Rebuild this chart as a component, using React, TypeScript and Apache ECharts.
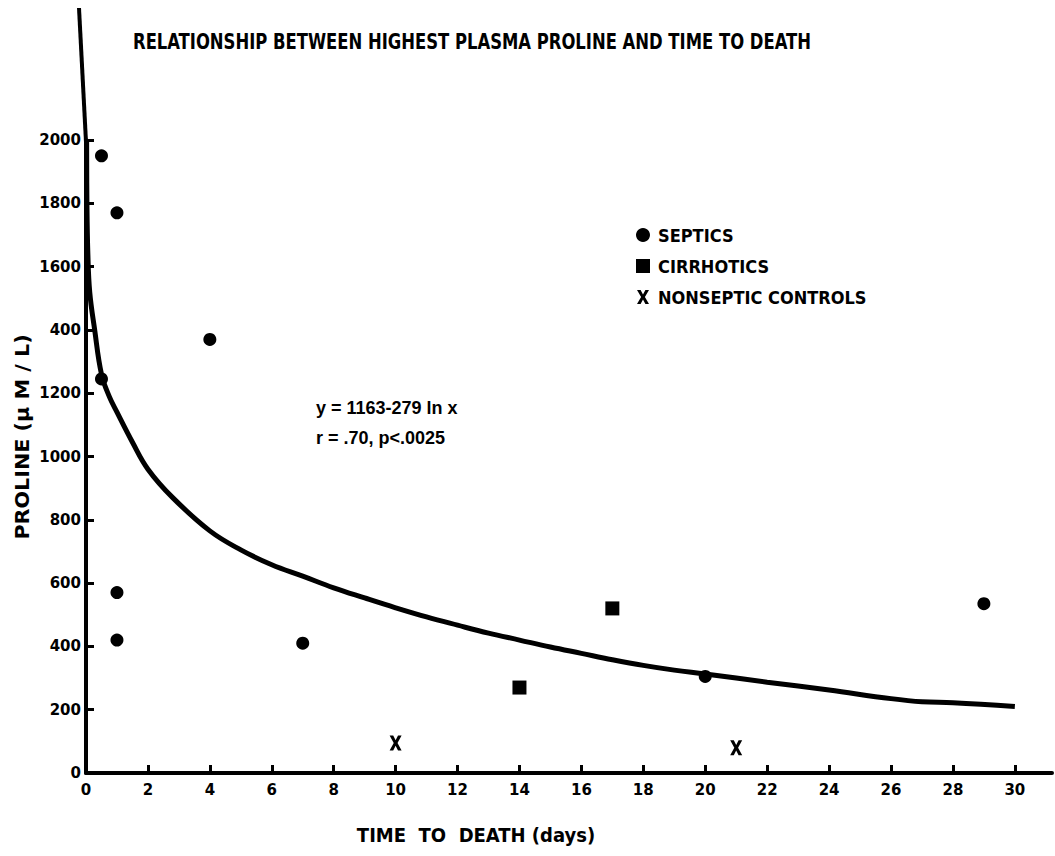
import React, { useEffect, useRef } from "react";
import * as echarts from "echarts";

// ---- data ----
const SEPTICS: [number, number][] = [
  [0.5, 1950], [1, 1770], [4, 1370], [0.5, 1245], [1, 570],
  [1, 420], [7, 410], [20, 305], [29, 535],
];
const CIRRHOTICS: [number, number][] = [[14, 270], [17, 520]];
const NONSEPTIC: [number, number][] = [[10, 95], [21, 80]];

// hand-drawn regression curve (y = 1163 - 279 ln x)
const CURVE: [number, number][] = [
  [0.02, 2000], [0.03, 1800], [0.06, 1640], [0.12, 1520], [0.28, 1400],
  [0.5, 1260], [0.75, 1190], [1, 1140], [1.5, 1045], [2, 960],
  [2.8, 870], [4, 765], [5, 705], [6, 658], [7, 622],
  [8, 585], [9, 553], [10, 522], [11, 493], [12, 467],
  [13, 442], [14, 420], [15, 398], [16, 378], [17, 358],
  [18, 340], [19, 325], [20, 313], [22, 287], [24, 262],
  [26, 235], [27, 225], [28, 222], [30, 210],
];

const Y_TICK_LABELS = ["0", "200", "400", "600", "800", "1000", "1200", "400", "1600", "1800", "2000"];
const X_TICK_STEP = 2;
const Y_TICK_STEP = 200;

const TITLE = "RELATIONSHIP BETWEEN HIGHEST PLASMA PROLINE AND TIME TO DEATH";
const X_NAME = "TIME  TO  DEATH (days)";
const Y_NAME = "PROLINE (\u03BC M / L)";
const EQ_LINE1 = "y = 1163-279 ln x";
const EQ_LINE2 = "r = .70, p<.0025";

const NARROW = "'Liberation Sans Narrow', 'DejaVu Sans Condensed', 'Liberation Sans', sans-serif";
const NUM = "'DejaVu Sans', sans-serif";

const X_SYMBOL =
  "path://M0,0 L3.6,0 L6,4.4 L8.4,0 L12,0 L7.9,7 L12,14 L8.4,14 L6,9.6 L3.6,14 L0,14 L4.1,7 Z";

export default function App() {
  const ref = useRef<HTMLDivElement>(null);
  useEffect(() => {
    if (!ref.current) return;
    const chart = echarts.init(ref.current, null, { renderer: "svg" });
    const gridLeft = 86;
    const gridTop = 140;
    chart.setOption({
      animation: false,
      backgroundColor: "#fff",
      legend: {
        data: ["SEPTICS", "CIRRHOTICS", "NONSEPTIC CONTROLS"],
        orient: "vertical",
        left: 631,
        top: 221,
        itemWidth: 14,
        itemHeight: 14,
        itemGap: 13,
        textStyle: {
          fontFamily: NARROW,
          fontWeight: "bold",
          fontSize: 18,
          color: "#000",
          padding: [0, 0, 0, 3],
        },
      },
      grid: { left: gridLeft, top: gridTop, width: 966, height: 633, containLabel: false },
      xAxis: {
        type: "value",
        min: 0,
        max: 31.2,
        interval: X_TICK_STEP,
        axisLine: { show: true, lineStyle: { color: "#000", width: 4 } },
        axisTick: { show: true, inside: true, length: 8, lineStyle: { color: "#000", width: 3 } },
        axisLabel: {
          margin: 9,
          color: "#000",
          fontFamily: NUM,
          fontWeight: "bold",
          fontSize: 15,
          showMaxLabel: false,
          formatter: (v: number) => (v <= 30 ? String(v) : ""),
        },
        splitLine: { show: false },
      },
      yAxis: {
        type: "value",
        min: 0,
        max: 2000,
        interval: Y_TICK_STEP,
        axisLine: { show: true, lineStyle: { color: "#000", width: 4 } },
        axisTick: { show: true, inside: true, length: 8, lineStyle: { color: "#000", width: 3 } },
        axisLabel: {
          margin: 5,
          color: "#000",
          fontFamily: NUM,
          fontWeight: "bold",
          fontSize: 15,
          formatter: (v: number) => Y_TICK_LABELS[Math.round(v / Y_TICK_STEP)] ?? "",
        },
        splitLine: { show: false },
      },
      graphic: [
        {
          type: "line",
          shape: { x1: 79, y1: 8, x2: 86, y2: gridTop + 2 },
          style: { stroke: "#000", lineWidth: 4 },
        },
        {
          type: "text",
          x: 133,
          y: 41,
          scaleX: 0.83,
          style: {
            text: TITLE,
            font: `bold 22px ${NARROW}`,
            fill: "#000",
            align: "left",
            verticalAlign: "middle",
          },
        },
        {
          type: "text",
          x: 316,
          y: 408,
          style: {
            text: EQ_LINE1,
            font: "bold 18px 'Liberation Sans', sans-serif",
            fill: "#000",
            verticalAlign: "middle",
          },
        },
        {
          type: "text",
          x: 316,
          y: 438,
          style: {
            text: EQ_LINE2,
            font: "bold 18px 'Liberation Sans', sans-serif",
            fill: "#000",
            verticalAlign: "middle",
          },
        },
        {
          type: "text",
          x: 476,
          y: 835,
          style: {
            text: X_NAME,
            font: `bold 20px ${NARROW}`,
            fill: "#000",
            align: "center",
            verticalAlign: "middle",
          },
        },
        {
          type: "text",
          x: 22,
          y: 437,
          rotation: Math.PI / 2,
          scaleX: 1.15,
          style: {
            text: Y_NAME,
            font: `bold 20px ${NARROW}`,
            fill: "#000",
            align: "center",
            verticalAlign: "middle",
          },
        },
      ],
      series: [
        {
          name: "curve",
          type: "line",
          data: CURVE,
          showSymbol: false,
          smooth: 0.4,
          lineStyle: { color: "#000", width: 5 },
          z: 2,
          silent: true,
        },
        {
          name: "SEPTICS",
          type: "scatter",
          data: SEPTICS,
          symbol: "circle",
          symbolSize: 13,
          itemStyle: { color: "#000", opacity: 1 },
          z: 3,
        },
        {
          name: "CIRRHOTICS",
          type: "scatter",
          data: CIRRHOTICS,
          symbol: "rect",
          symbolSize: 14,
          itemStyle: { color: "#000", opacity: 1 },
          z: 3,
        },
        {
          name: "NONSEPTIC CONTROLS",
          type: "scatter",
          data: NONSEPTIC,
          symbol: X_SYMBOL,
          symbolSize: [12, 15],
          itemStyle: { color: "#000", opacity: 1 },
          z: 3,
        },
      ],
    });
    return () => chart.dispose();
  }, []);
  return (
    <div
      ref={ref}
      style={{ position: "absolute", left: 0, top: 0, width: 1055, height: 856, background: "#fff" }}
    />
  );
}
